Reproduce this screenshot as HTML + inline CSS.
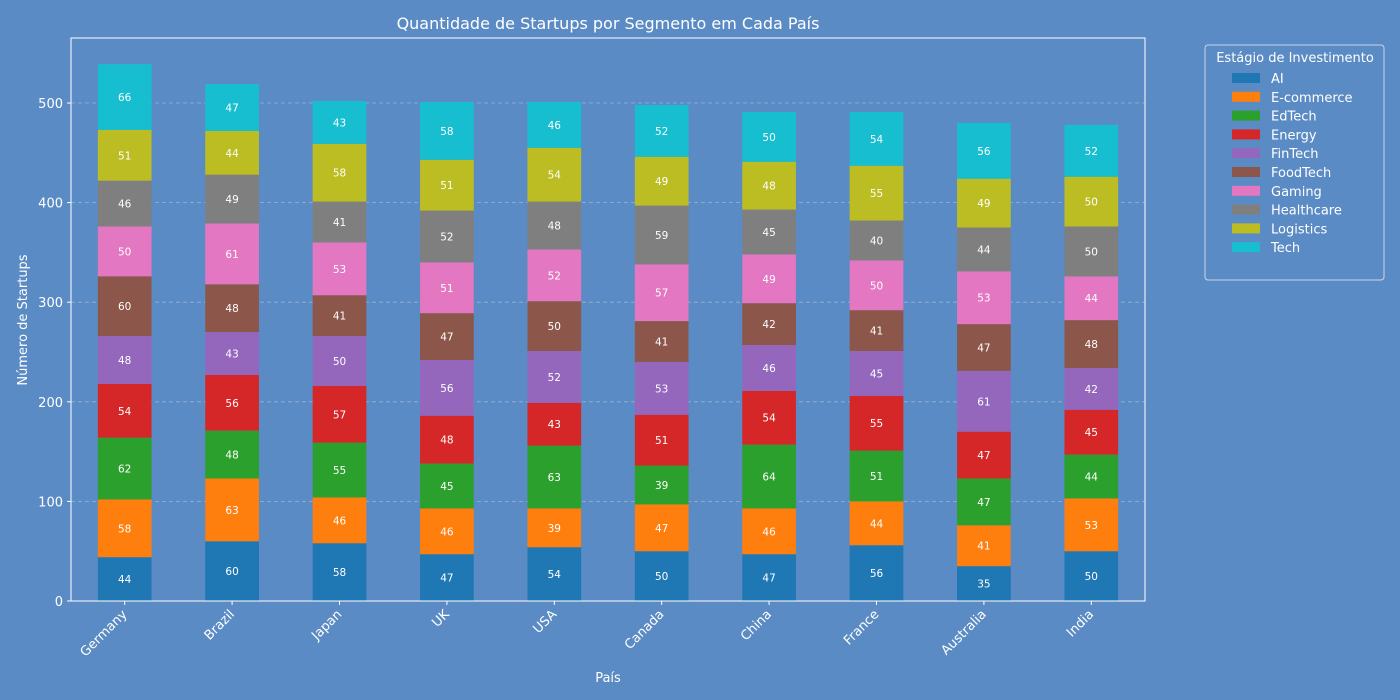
<!DOCTYPE html>
<html><head><meta charset="utf-8"><style>
html,body{margin:0;padding:0;background:#5b8bc4;}
svg{display:block;font-family:"DejaVu Sans","Liberation Sans",sans-serif;}
</style></head><body>
<svg id="chart" width="1400" height="700"></svg>
<script>
const countries=["Germany","Brazil","Japan","UK","USA","Canada","China","France","Australia","India"];
const segments=["AI","E-commerce","EdTech","Energy","FinTech","FoodTech","Gaming","Healthcare","Logistics","Tech"];
const colors=["#1f77b4","#ff7f0e","#2ca02c","#d62728","#9467bd","#8c564b","#e377c2","#7f7f7f","#bcbd22","#17becf"];
const aiVals=[44,60,58,47,54,50,47,56,35,50];
const ecomVals=[58,63,46,46,39,47,46,44,41,53];
const edtechVals=[62,48,55,45,63,39,64,51,47,44];
const energyVals=[54,56,57,48,43,51,54,55,47,45];
const fintechVals=[48,43,50,56,52,53,46,45,61,42];
const foodVals=[60,48,41,47,50,41,42,41,47,48];
const gamingVals=[50,61,53,51,52,57,49,50,53,44];
const healthVals=[46,49,41,52,48,59,45,40,44,50];
const logVals=[51,44,58,51,54,49,48,55,49,50];
const techVals=[66,47,43,58,46,52,50,54,56,52];
const yTicks=[0,100,200,300,400,500];
const series=[aiVals,ecomVals,edtechVals,energyVals,fintechVals,foodVals,gamingVals,healthVals,logVals,techVals];

const NS="http://www.w3.org/2000/svg";
const svg=document.getElementById('chart');
const L=71,R=1145,T=38,B=601,ppu=0.996;
const x=i=>L+(i+0.5)*(R-L)/countries.length;
const y=v=>B-v*ppu;
const bw=0.5*(R-L)/countries.length;
function mk(tag,a,txt){const e=document.createElementNS(NS,tag);for(const k in a)e.setAttribute(k,a[k]);if(txt!==undefined)e.textContent=txt;svg.appendChild(e);return e;}

yTicks.forEach(t=>{
 const g=mk('line',{x1:L,x2:R,y1:y(t),y2:y(t),stroke:'#b0c4de',"stroke-width":0.8,"stroke-dasharray":"4,3",opacity:0.7});
 
 
});
countries.forEach((c,i)=>{
 let base=0;
 series.forEach((s,j)=>{
  const v=s[i];
  const r=mk('rect',{x:x(i)-bw/2,y:y(base+v),width:bw,height:v*ppu,fill:colors[j]});
  
  
  const t=mk('text',{x:x(i),y:y(base+v/2)+4,"text-anchor":"middle","font-size":10.5,fill:'#fff'},v);
  
  
  base+=v;
 });
});
const fr=mk('rect',{x:L,y:T,width:R-L,height:B-T,fill:'none',stroke:'#fff',"stroke-width":1});


yTicks.forEach(t=>{
 mk('line',{x1:L-4,x2:L,y1:y(t),y2:y(t),stroke:'#fff'});
 const tl=mk('text',{x:L-8,y:y(t)+5,"text-anchor":"end","font-size":13,fill:'#fff'},t);
 
 
});
countries.forEach((c,i)=>{
 mk('line',{x1:x(i),x2:x(i),y1:B,y2:B+4,stroke:'#fff'});
 const tl=mk('text',{x:x(i)+3,y:B+14,"text-anchor":"end","font-size":13,fill:'#fff',transform:`rotate(-45 ${x(i)+3} ${B+14})`},c);
 
 
});
const tt=mk('text',{x:608,y:29,"text-anchor":"middle","font-size":16,fill:'#fff'},'Quantidade de Startups por Segmento em Cada País');


const xt=mk('text',{x:608,y:682,"text-anchor":"middle","font-size":13,fill:'#fff'},'País');


const yt=mk('text',{x:27,y:320,"text-anchor":"middle","font-size":13,fill:'#fff',transform:'rotate(-90 27 320)'},'Número de Startups');


const lb=mk('rect',{x:1205,y:45,width:179,height:235,rx:3,fill:'#5b8bc4',stroke:'#c8d6ea',"stroke-width":1});


const lt=mk('text',{x:1295,y:62,"text-anchor":"middle","font-size":13,fill:'#fff'},'Estágio de Investimento');


segments.forEach((s,j)=>{
 const yy=78+j*18.8;
 const sw=mk('rect',{x:1232,y:yy-5,width:28,height:10,fill:colors[j]});
 
 
 const e=mk('text',{x:1271,y:yy+5,"font-size":13,fill:'#fff'},s);
 
 
});
</script>
</body></html>
